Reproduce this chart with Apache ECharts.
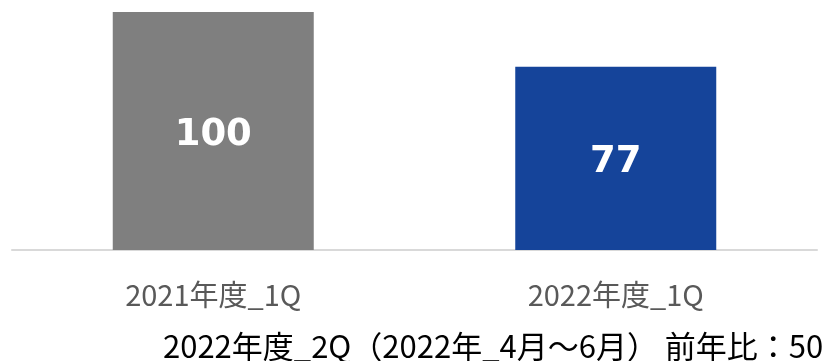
<!DOCTYPE html>
<html>
<head>
<meta charset="utf-8">
<script src="https://cdn.jsdelivr.net/npm/echarts@6/dist/echarts.min.js"></script>
<style>
  html, body { margin: 0; padding: 0; background: #fff; }
  #chart { width: 827px; height: 361px; }
</style>
</head>
<body>
<div id="chart"></div>
<script>
// Quarterly index, previous year's Q1 = 100
const categories = ['2021年度_1Q', '2022年度_1Q'];
const values = [100, 77];
const barColors = ['#7f7f7f', '#15449a'];
const footnote = '2022年度_2Q（2022年_4月～6月） 前年比：50';

const chart = echarts.init(document.getElementById('chart'));
chart.setOption({
  animation: false,
  title: {
    text: footnote,
    left: 163,
    top: 331,
    padding: 0,
    textStyle: {
      fontFamily: '"Noto Sans CJK JP", sans-serif',
      fontSize: 31,
      fontWeight: 'normal',
      color: '#000000'
    }
  },
  grid: { left: 12, right: 10, top: 12, bottom: 111 },
  xAxis: {
    type: 'category',
    data: categories,
    axisLine: { lineStyle: { color: '#d9d9d9', width: 2 } },
    axisTick: { show: false },
    axisLabel: {
      margin: 30,
      fontFamily: '"Noto Sans CJK JP", sans-serif',
      fontSize: 29,
      color: '#595959'
    }
  },
  yAxis: {
    type: 'value',
    min: 0,
    max: 100,
    show: false,
    splitLine: { show: false }
  },
  series: [{
    type: 'bar',
    barWidth: 201,
    data: values.map((v, i) => ({ value: v, itemStyle: { color: barColors[i] } })),
    label: {
      show: true,
      position: 'inside',
      offset: [0, 4],
      fontFamily: '"DejaVu Sans", sans-serif',
      fontWeight: 'bold',
      fontSize: 37,
      color: '#ffffff'
    }
  }]
});
</script>
</body>
</html>
